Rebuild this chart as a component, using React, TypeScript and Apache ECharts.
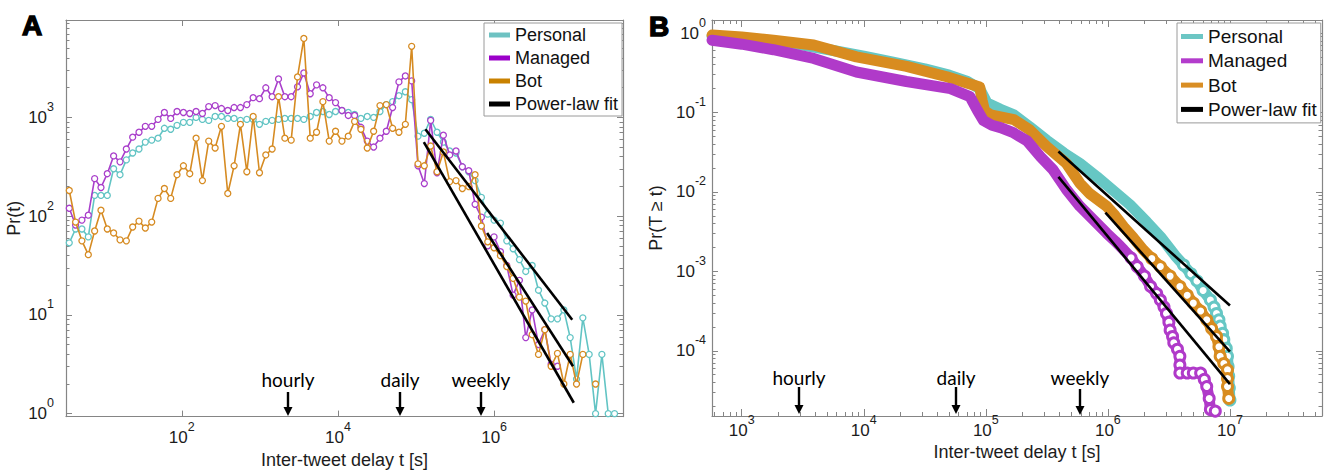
import React, { useEffect, useRef } from "react";
import * as echarts from "echarts";

// ---------- Panel A : log-binned inter-tweet delay distribution (log10 values) ----------
const binLogT = [
  0.559, 0.640, 0.721, 0.803, 0.884, 0.965, 1.046, 1.127, 1.209, 1.290,
  1.371, 1.452, 1.533, 1.615, 1.696, 1.777, 1.858, 1.939, 2.021, 2.102,
  2.183, 2.264, 2.345, 2.427, 2.508, 2.589, 2.670, 2.751, 2.833, 2.914,
  2.995, 3.076, 3.157, 3.239, 3.320, 3.401, 3.482, 3.563, 3.645, 3.726,
  3.807, 3.888, 3.969, 4.051, 4.132, 4.213, 4.294, 4.375, 4.457, 4.538,
  4.619, 4.700, 4.781, 4.863, 4.944, 5.025, 5.106, 5.187, 5.269, 5.350,
  5.431, 5.512, 5.593, 5.675, 5.756, 5.837, 5.918, 5.999, 6.081, 6.162,
  6.243, 6.324, 6.405, 6.487, 6.568, 6.649, 6.730, 6.811, 6.893, 6.974,
  7.055, 7.136, 7.217, 7.299, 7.380, 7.461, 7.542,
];

const personalA = [
  1.73, 1.87, 1.87, 1.79, 2.21, 2.21, 2.21, 2.48, 2.42, 2.57,
  2.64, 2.68, 2.75, 2.77, 2.79, 2.89, 2.88, 2.92, 2.95, 2.95,
  3.00, 2.98, 2.97, 3.01, 3.01, 2.99, 2.99, 2.97, 2.98, 2.98,
  2.93, 2.96, 2.97, 2.98, 2.99, 2.99, 2.99, 2.98, 3.01, 3.05,
  3.06, 3.03, 3.06, 3.07, 3.05, 3.03, 2.99, 3.01, 3.00, 3.06,
  3.13, 3.16, 3.22, 3.26, 3.18, 2.81, 2.84, 2.98, 2.85, 2.75,
  2.66, 2.64, 2.50, 2.45, 2.36, 2.19, 2.02, 1.96, 1.93, 1.75,
  1.67, 1.56, 1.44, 1.50, 1.25, 1.12, 0.96, 0.96, 1.05, 0.77,
  0.35, 0.97, 0.60, 0.00, 0.60, 0.00, 0.00,
];

const managedA = [
  2.08, 1.91, 1.96, 2.01, 2.38, 2.29, 2.43, 2.61, 2.55, 2.68,
  2.80, 2.85, 2.91, 2.91, 2.98, 3.05, 2.99, 3.06, 3.05, 3.04,
  3.06, 3.04, 3.11, 3.12, 3.09, 3.07, 3.10, 3.10, 3.13, 3.20,
  3.19, 3.30, 3.21, 3.39, 3.21, 3.21, 3.31, 3.45, 3.24, 3.33,
  3.30, 3.20, 3.15, 3.07, 3.02, 3.02, 2.90, 2.76, 2.70, 2.79,
  2.86, 3.10, 3.36, 3.42, 3.37, 2.51, 2.33, 2.97, 2.44, 2.82,
  2.62, 2.66, 2.50, 2.46, 2.12, 1.99, 1.70, 1.79, 1.64, 1.50,
  1.20, 1.35, 0.77, 1.05, 0.70, 0.85, 0.50, 0.48, null, null,
  null, null, null, null, null, null, null,
];

const botA = [
  2.26, 1.94, 1.75, 1.61, 1.85, 2.06, 1.87, 1.83, 1.76, 1.75,
  1.89, 1.95, 1.88, 1.94, 2.18, 2.28, 2.18, 2.42, 2.51, 2.43,
  2.79, 2.36, 2.76, 2.69, 2.91, 2.23, 2.51, 2.93, 2.45, 3.01,
  2.44, 2.62, 2.68, 3.21, 2.79, 2.77, 3.41, 3.80, 2.79, 2.85,
  3.16, 2.76, 2.86, 2.76, 2.81, 2.96, 2.88, 2.69, 2.86, 3.12,
  3.13, 2.89, 2.85, 2.93, 3.72, 2.53, 2.51, 2.71, 2.45, 2.65,
  2.35, 2.36, 2.28, 2.30, 2.42, 1.90, 1.74, 1.68, 1.60, 1.49,
  1.37, 1.18, 1.14, 0.80, 0.60, 0.85, 0.48, 0.61, 0.30, 0.60,
  0.30, 0.60, null, 0.30, null, null, null,
];

// power-law fits, [log10 t, log10 Pr]
const fitPersonalA = [[5.12, 2.88], [7.0, 0.95]];
const fitManagedA = [[5.10, 2.75], [7.02, 0.11]];
const fitBotA = [[5.91, 1.83], [7.01, 0.48]];

// ---------- Panel B : CCDF, [log10 t, log10 Pr(T>=t)] ----------
const personalB = [
  [2.757, -0.04], [3.0, -0.065], [3.25, -0.10], [3.5, -0.15], [3.75, -0.22],
  [4.0, -0.29], [4.25, -0.37], [4.5, -0.45], [4.7, -0.53], [4.85, -0.61],
  [4.95, -0.70], [5.01, -0.88], [5.12, -0.96], [5.23, -1.03], [5.36, -1.18],
  [5.5, -1.35], [5.64, -1.51], [5.77, -1.64], [5.91, -1.81], [6.05, -1.99],
  [6.18, -2.16], [6.32, -2.38], [6.44, -2.58], [6.55, -2.80], [6.62, -2.92],
  [6.68, -3.03], [6.73, -3.12], [6.78, -3.24], [6.84, -3.36], [6.87, -3.45],
  [6.89, -3.53], [6.91, -3.61], [6.92, -3.69], [6.94, -3.78], [6.95, -3.86],
  [6.97, -3.97], [6.98, -4.07], [6.985, -4.2], [6.99, -4.32], [6.995, -4.47],
  [7.0, -4.62],
];

const managedB = [
  [2.757, -0.09], [3.0, -0.14], [3.26, -0.21], [3.59, -0.32], [3.94, -0.49],
  [4.35, -0.61], [4.71, -0.70], [4.87, -0.80], [4.93, -0.97], [4.98, -1.10],
  [5.05, -1.16], [5.12, -1.19], [5.22, -1.25], [5.34, -1.36], [5.45, -1.56],
  [5.55, -1.72], [5.66, -1.97], [5.77, -2.18], [5.88, -2.35], [5.99, -2.52],
  [6.06, -2.62], [6.13, -2.73], [6.19, -2.83], [6.24, -2.94], [6.30, -3.06],
  [6.35, -3.19], [6.40, -3.28], [6.43, -3.36], [6.46, -3.45], [6.48, -3.53],
  [6.50, -3.64], [6.51, -3.74], [6.53, -3.82], [6.54, -3.90], [6.57, -3.98],
  [6.59, -4.07], [6.59, -4.18], [6.59, -4.28], [6.65, -4.28], [6.70, -4.28],
  [6.76, -4.28], [6.79, -4.36], [6.81, -4.45], [6.83, -4.60], [6.84, -4.74],
  [6.88, -4.76],
];

const botB = [
  [2.757, -0.025], [3.0, -0.05], [3.26, -0.09], [3.59, -0.15], [3.94, -0.30],
  [4.35, -0.42], [4.68, -0.55], [4.95, -0.68], [4.97, -0.85], [4.99, -0.98],
  [5.04, -1.03], [5.23, -1.09], [5.36, -1.22], [5.5, -1.43], [5.66, -1.64],
  [5.77, -1.89], [5.85, -2.02], [5.99, -2.18], [6.06, -2.30], [6.13, -2.44],
  [6.21, -2.58], [6.29, -2.73], [6.36, -2.84], [6.43, -2.94], [6.51, -3.06],
  [6.59, -3.19], [6.65, -3.30], [6.70, -3.40], [6.76, -3.50], [6.81, -3.61],
  [6.85, -3.72], [6.89, -3.82], [6.91, -3.95], [6.92, -4.07], [6.95, -4.16],
  [6.98, -4.24], [6.98, -4.35], [6.98, -4.45], [6.99, -4.60],
];

const fitPersonalB = [[5.595, -1.49], [7.0, -3.43]];
const fitBotB = [[5.98, -2.26], [7.0, -4.01]];
const fitManagedB = [[5.595, -1.81], [7.0, -4.42]];

// ---------- ticks ----------
const xTicksA = [1e2, 1e4, 1e6];
const yTicksA = [1, 10, 100, 1000];
const yMinorA = [
  2, 3, 4, 5, 6, 7, 8, 9,
  20, 30, 40, 50, 60, 70, 80, 90,
  200, 300, 400, 500, 600, 700, 800, 900,
  2000, 3000, 4000, 5000, 6000, 7000, 8000, 9000,
];
const xTicksB = [1e3, 1e4, 1e5, 1e6, 1e7];
const xMinorB = [
  600, 700, 800, 900,
  2000, 3000, 4000, 5000, 6000, 7000, 8000, 9000,
  2e4, 3e4, 4e4, 5e4, 6e4, 7e4, 8e4, 9e4,
  2e5, 3e5, 4e5, 5e5, 6e5, 7e5, 8e5, 9e5,
  2e6, 3e6, 4e6, 5e6, 6e6, 7e6, 8e6, 9e6,
  2e7, 3e7, 4e7, 5e7,
];
const yTicksB = [1e-4, 1e-3, 1e-2, 1e-1, 1];
const yMinorB = [
  2e-5, 3e-5, 4e-5, 5e-5, 6e-5, 7e-5, 8e-5, 9e-5,
  2e-4, 3e-4, 4e-4, 5e-4, 6e-4, 7e-4, 8e-4, 9e-4,
  2e-3, 3e-3, 4e-3, 5e-3, 6e-3, 7e-3, 8e-3, 9e-3,
  2e-2, 3e-2, 4e-2, 5e-2, 6e-2, 7e-2, 8e-2, 9e-2,
  0.2, 0.3, 0.4, 0.5, 0.6, 0.7, 0.8, 0.9,
];

const names = ["Personal", "Managed", "Bot", "Power-law fit"];

// ---------- styling ----------
const FF = "'Liberation Sans', Arial, Helvetica, sans-serif";
const AX = "#858585";
const TXT = "#1c1c1c";
const colA: Record<string, string> = { Personal: "#62c4c4", Managed: "#a93fcb", Bot: "#d68b22" };
const legA: Record<string, string> = { Personal: "#6ec2c2", Managed: "#9b00c9", Bot: "#c98100", "Power-law fit": "#000" };
const colB: Record<string, string> = { Personal: "#66c7c4", Managed: "#b03ac9", Bot: "#d88c20" };
const legB: Record<string, string> = { Personal: "#6cc6c4", Managed: "#b33ccc", Bot: "#d98e24", "Power-law fit": "#000" };

const p10 = (v: number) => Math.pow(10, v);
const labelFmt = (v: number) => `{b|10}{s|${Math.round(Math.log10(v))}}`;
const rich = {
  b: { fontSize: 17, fontFamily: FF, color: TXT, verticalAlign: "middle" },
  s: { fontSize: 12.5, fontFamily: FF, color: TXT, verticalAlign: "top", padding: [0, 0, 21, 0] },
};

const lim = {
  A: { xmin: 3.29, xmax: 4.47e7, ymin: 0.933, ymax: 9700 },
  B: { xmin: 571, xmax: 5.68e7, ymin: 1.51e-5, ymax: 1.46 },
};

function base(gridIndex: number, min: number, max: number) {
  return {
    gridIndex, type: "log", logBase: 10, min, max,
    splitLine: { show: false }, minorTick: { show: false }, minorSplitLine: { show: false },
    axisPointer: { show: false }, silent: true,
  };
}
function majorAxis(gridIndex: number, min: number, max: number, position: string, ticks: number[], len: number, label: any, extra: any = {}) {
  return {
    ...base(gridIndex, min, max), position,
    axisLine: { show: true, onZero: false, lineStyle: { color: AX, width: 1.2 } },
    axisTick: { show: true, inside: true, length: len, customValues: ticks, lineStyle: { color: AX, width: 1 } },
    axisLabel: label ? { show: true, customValues: ticks, formatter: labelFmt, rich, ...label } : { show: false },
    ...extra,
  };
}
function minorAxis(gridIndex: number, min: number, max: number, position: string, ticks: number[], len: number) {
  return {
    ...base(gridIndex, min, max), position,
    axisLine: { show: false, onZero: false },
    axisTick: { show: true, inside: true, length: len, customValues: ticks, lineStyle: { color: AX, width: 1 } },
    axisLabel: { show: false },
  };
}

const nameStyle = { fontSize: 18, fontFamily: FF, color: TXT };

const xAxis = [
  majorAxis(0, lim.A.xmin, lim.A.xmax, "bottom", xTicksA, 6, { margin: 4 }, {
    name: "Inter-tweet delay t [s]", nameLocation: "middle", nameGap: 33, nameTextStyle: nameStyle,
  }),
  majorAxis(0, lim.A.xmin, lim.A.xmax, "top", xTicksA, 6, null),
  majorAxis(1, lim.B.xmin, lim.B.xmax, "bottom", xTicksB, 7, { margin: -3 }, {
    name: "Inter-tweet delay t [s]", nameLocation: "middle", nameGap: 27, nameTextStyle: nameStyle,
  }),
  minorAxis(1, lim.B.xmin, lim.B.xmax, "bottom", xMinorB, 4),
  majorAxis(1, lim.B.xmin, lim.B.xmax, "top", xTicksB, 7, null),
  minorAxis(1, lim.B.xmin, lim.B.xmax, "top", xMinorB, 4),
];

const yAxis = [
  majorAxis(0, lim.A.ymin, lim.A.ymax, "left", yTicksA, 6, { margin: 12 }, {
    name: "Pr(t)", nameLocation: "middle", nameGap: 43, nameTextStyle: nameStyle,
  }),
  minorAxis(0, lim.A.ymin, lim.A.ymax, "left", yMinorA, 3.5),
  majorAxis(0, lim.A.ymin, lim.A.ymax, "right", yTicksA, 6, null),
  minorAxis(0, lim.A.ymin, lim.A.ymax, "right", yMinorA, 3.5),
  majorAxis(1, lim.B.ymin, lim.B.ymax, "left", yTicksB, 6, { margin: 6 }, {
    name: "Pr(T \u2265 t)", nameLocation: "middle", nameGap: 47, nameTextStyle: nameStyle,
  }),
  minorAxis(1, lim.B.ymin, lim.B.ymax, "left", yMinorB, 3.5),
  majorAxis(1, lim.B.ymin, lim.B.ymax, "right", yTicksB, 6, null),
  minorAxis(1, lim.B.ymin, lim.B.ymax, "right", yMinorB, 3.5),
];

function seriesA(name: string, vals: (number | null)[], z: number) {
  const c = colA[name];
  return {
    type: "line", name, xAxisIndex: 0, yAxisIndex: 0, z,
    data: binLogT.map((lt, i) => [p10(lt), vals[i] == null ? "-" : p10(vals[i] as number)]),
    connectNulls: false,
    symbol: "circle", symbolSize: 6, showSymbol: true, showAllSymbol: true,
    lineStyle: { color: c, width: 1.6 },
    itemStyle: { color: "#ffffff", borderColor: c, borderWidth: 1.3 },
    emphasis: { disabled: true }, silent: true,
  };
}
function seriesB(name: string, pts: number[][], z: number) {
  const c = colB[name];
  return {
    type: "line", name, xAxisIndex: 2, yAxisIndex: 4, z,
    data: pts.map(([lt, lp]) => ({ value: [p10(lt), p10(lp)], symbol: lp < -2.8 ? "circle" : "none" })),
    symbolSize: 10, showSymbol: true, showAllSymbol: true,
    lineStyle: { color: c, width: 11, cap: "round", join: "round" },
    itemStyle: { color: "#ffffff", borderColor: c, borderWidth: 3 },
    emphasis: { disabled: true }, silent: true,
  };
}
function fitSeries(pts: number[][], xi: number, yi: number, w: number) {
  return {
    type: "line", name: "Power-law fit", xAxisIndex: xi, yAxisIndex: yi, z: 10,
    data: pts.map(([lt, lp]) => [p10(lt), p10(lp)]),
    symbol: "none", lineStyle: { color: "#000", width: w },
    emphasis: { disabled: true }, silent: true,
  };
}

function legend(left: number, top: number, fs: number, gap: number, w: number, cols: Record<string, string>, pad: number[]) {
  return {
    orient: "vertical", left, top, padding: pad, itemGap: gap,
    itemWidth: w, itemHeight: 5, icon: "rect",
    borderColor: "#9a9a9a", borderWidth: 1, backgroundColor: "#ffffff",
    textStyle: { fontSize: fs, fontFamily: FF, color: "#111" },
    selectedMode: false,
    data: names.map((n) => ({
      name: n, icon: "rect",
      itemStyle: { color: cols[n], borderWidth: 0 },
    })),
  };
}

function arrowAnno(label: string, x: number, textY: number, top: number, tip: number) {
  return [
    {
      type: "text", x, y: textY, silent: true,
      style: { text: label, fill: "#000", fontSize: 19, fontFamily: "Lato, 'Open Sans', sans-serif", textAlign: "center", textVerticalAlign: "middle" },
    },
    { type: "line", silent: true, shape: { x1: x, y1: top, x2: x, y2: tip - 6 }, style: { stroke: "#000", lineWidth: 2.4 } },
    { type: "polygon", silent: true, shape: { points: [[x - 4.5, tip - 9], [x + 4.5, tip - 9], [x, tip]] }, style: { fill: "#000" } },
  ];
}

const option = {
  animation: false,
  backgroundColor: "#ffffff",
  grid: [
    { left: 66, top: 20, width: 557, height: 399 },
    { left: 712, top: 20, width: 610, height: 396 },
  ],
  xAxis, yAxis,
  legend: [
    legend(484, 23, 18, 5, 21, legA, [3, 4, 3, 5]),
    legend(1177, 23, 19, 5.3, 22, legB, [4, 4, 4, 4]),
  ],
  series: [
    seriesA("Personal", personalA, 2),
    seriesA("Managed", managedA, 3),
    seriesA("Bot", botA, 4),
    fitSeries(fitPersonalA, 0, 0, 2.6),
    fitSeries(fitManagedA, 0, 0, 2.6),
    fitSeries(fitBotA, 0, 0, 2.6),
    seriesB("Personal", personalB, 2),
    seriesB("Bot", botB, 3),
    seriesB("Managed", managedB, 4),
    fitSeries(fitPersonalB, 2, 4, 2.6),
    fitSeries(fitBotB, 2, 4, 2.6),
    fitSeries(fitManagedB, 2, 4, 2.6),
  ],
  graphic: {
    elements: [
      {
        type: "text", x: 32, y: 25, silent: true,
        style: { text: "A", fill: "#000", stroke: "#000", lineWidth: 1.4, fontSize: 28, fontWeight: "bold", fontFamily: FF, textAlign: "center", textVerticalAlign: "middle" },
      },
      {
        type: "text", x: 659, y: 26, silent: true,
        style: { text: "B", fill: "#000", stroke: "#000", lineWidth: 1.4, fontSize: 28, fontWeight: "bold", fontFamily: FF, textAlign: "center", textVerticalAlign: "middle" },
      },
      ...arrowAnno("hourly", 288, 379, 392, 416),
      ...arrowAnno("daily", 400, 379, 392, 416),
      ...arrowAnno("weekly", 481, 379, 392, 416),
      ...arrowAnno("hourly", 799, 377, 387, 414),
      ...arrowAnno("daily", 956, 377, 387, 414),
      ...arrowAnno("weekly", 1080, 377, 389, 415),
    ],
  },
};

export default function App() {
  const ref = useRef<HTMLDivElement>(null);
  useEffect(() => {
    if (!ref.current) return;
    const chart = echarts.init(ref.current, null, { renderer: "svg" });
    chart.setOption(option as any);
    return () => chart.dispose();
  }, []);
  return (
    <div
      ref={ref}
      style={{ position: "fixed", left: 0, top: 0, width: 1326, height: 474, background: "#fff" }}
    />
  );
}
